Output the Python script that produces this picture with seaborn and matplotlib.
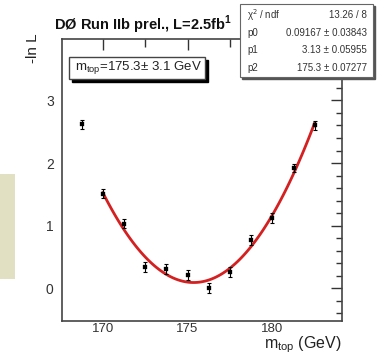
import numpy as np
import pandas as pd
import matplotlib
matplotlib.use("Agg")
import matplotlib.pyplot as plt
from matplotlib.patches import Rectangle
from matplotlib.ticker import MultipleLocator
import seaborn as sns

# ---- data ----
mtop = [168.75, 170.0, 171.25, 172.5, 173.75, 175.0, 176.25, 177.5, 178.75, 180.0, 181.25, 182.5]
neg_lnL = [2.62, 1.51, 1.03, 0.345, 0.31, 0.22, 0.0, 0.255, 0.77, 1.12, 1.92, 2.60]
err = [0.07, 0.07, 0.07, 0.08, 0.08, 0.08, 0.08, 0.08, 0.08, 0.08, 0.07, 0.07]

# fit range (quadratic fit)
fit_lo, fit_hi = 170.0, 182.5

stats_names = ["χ$^2$ / ndf", "p0", "p1", "p2"]
stats_vals = ["13.26 / 8", "0.09167 ± 0.03843", "3.13 ± 0.05955", "175.3 ± 0.07277"]

W, H = 379, 355
sns.set_style("white")
plt.rcParams['font.family'] = ['Liberation Sans', 'DejaVu Sans']
fig = plt.figure(figsize=(W / 100, H / 100), dpi=100)
fig.patch.set_facecolor("white")

def fx(px):
    return px / W

def fy(py):
    return 1 - py / H

ax = fig.add_axes([fx(62), fy(321), fx(342) - fx(62), fy(39) - fy(321)])

df = pd.DataFrame({"m": mtop, "L": neg_lnL, "e": err})
fit_df = df[(df["m"] >= fit_lo) & (df["m"] <= fit_hi)]
sns.regplot(data=fit_df, x="m", y="L", order=2, ci=None, scatter=False, truncate=True,
            line_kws={"color": "#d42020", "lw": 2.0}, ax=ax)
ax.errorbar(df["m"], df["L"], yerr=df["e"], fmt="none", ecolor="black", elinewidth=0.8, capsize=1.5, capthick=0.8)
sns.scatterplot(data=df, x="m", y="L", marker="s", s=8, color="black", edgecolor="black", ax=ax, zorder=5)

ax.set_xlim(167.6, 184.1)
ax.set_ylim(-0.52, 3.98)
ax.set_xlabel("")
ax.set_ylabel("")
ax.xaxis.set_major_locator(MultipleLocator(5))
ax.xaxis.set_minor_locator(MultipleLocator(2.5))
ax.yaxis.set_major_locator(MultipleLocator(1))
ax.yaxis.set_minor_locator(MultipleLocator(0.2))
ax.tick_params(which="both", direction="in", top=True, right=True, labelsize=10, colors="#333333")
ax.tick_params(which="major", length=8, width=1)
ax.tick_params(which="minor", length=4, width=1)
ax.tick_params(axis="x", which="minor", length=6)
ax.tick_params(axis="x", pad=1.5, labelsize=9.5)
ax.tick_params(axis="y", pad=6)
for s in ax.spines.values():
    s.set_color("#444444")
    s.set_linewidth(1.2)
    s.set_visible(True)

# axis labels (ROOT-style placement)
fig.text(fx(33), fy(48), "-ln L", rotation=90, ha="center", va="center", fontsize=11, color="#222222")
fig.text(fx(342), fy(345), "m$_{\\mathregular{top}}$ (GeV)", ha="right", va="center", fontsize=11.5, color="#222222")

# title
fig.text(fx(54), fy(25), "DØ Run IIb prel., L=2.5fb$^{\\mathregular{1}}$", ha="left", va="center",
         fontsize=10.5, fontweight="bold", color="#111111")

# m_top box with shadow
fig.add_artist(Rectangle((fx(72), fy(82)), fx(205) - fx(69), fy(57) - fy(79), transform=fig.transFigure,
                         facecolor="black", edgecolor="black", zorder=9))
fig.add_artist(Rectangle((fx(69), fy(79)), fx(205) - fx(69), fy(57) - fy(79), transform=fig.transFigure,
                         facecolor="white", edgecolor="#444444", lw=1, zorder=10))
fig.text(fx(75), fy(68), "m$_{\\mathregular{top}}$=175.3± 3.1 GeV", ha="left", va="center", fontsize=9.5,
         color="#222222", zorder=11)

# stats box with shadow
fig.add_artist(Rectangle((fx(242), fy(79)), fx(373) - fx(240), fy(4) - fy(77), transform=fig.transFigure,
                         facecolor="#555555", edgecolor="#555555", zorder=9))
fig.add_artist(Rectangle((fx(240), fy(77)), fx(373) - fx(240), fy(4) - fy(77), transform=fig.transFigure,
                         facecolor="white", edgecolor="#666666", lw=0.8, zorder=10))
rows_y = [15, 33, 50, 68]
for name, val, yy in zip(stats_names, stats_vals, rows_y):
    fig.text(fx(247), fy(yy), name, ha="left", va="center", fontsize=7, color="#333333", zorder=11)
    fig.text(fx(367), fy(yy), val, ha="right", va="center", fontsize=7, color="#333333", zorder=11)

# beige slide artifact at left edge
fig.add_artist(Rectangle((0, fy(279)), fx(15), fy(174) - fy(279), transform=fig.transFigure,
                         facecolor="#e2e0c2", edgecolor="none", zorder=0))

fig.savefig("out.png", dpi=100, facecolor="white")
